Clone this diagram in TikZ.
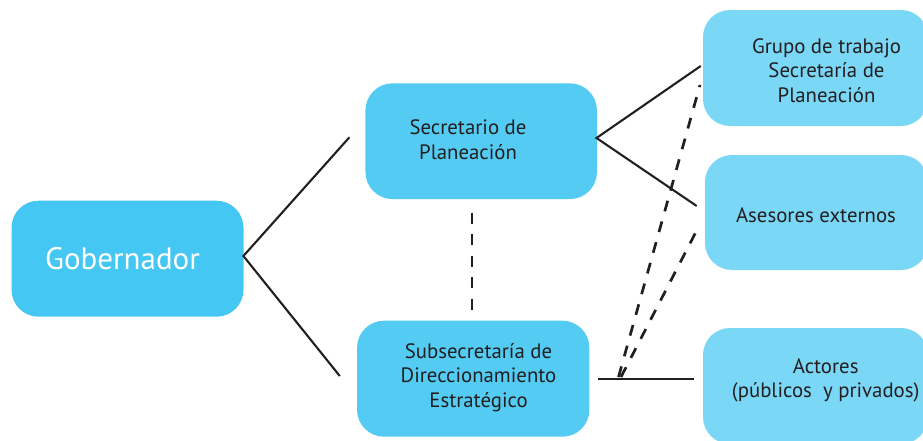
\documentclass[tikz,border=0pt]{standalone}
\usepackage{fontspec}
\setmainfont{PT Sans}
\definecolor{boxdark}{RGB}{69,199,243}
\definecolor{boxmid}{RGB}{83,203,243}
\definecolor{boxlight}{RGB}{122,215,246}
\definecolor{ink}{RGB}{35,31,32}
\begin{document}
\begin{tikzpicture}[x=1pt,y=-1pt,
  orgbox/.style={draw=none,rounded corners=27pt,inner sep=0pt},
  txt/.style={align=center,text=ink,font=\fontsize{20.8}{24.5}\selectfont,inner sep=0pt},
  link/.style={draw=ink,line width=2.1pt},
  dlink/.style={draw=ink,line width=2.7pt,dash pattern=on 11pt off 10.5pt}]
\useasboundingbox (0,0) rectangle (923,440);
\begin{scope}
\clip (0,0) rectangle (923,440);
% boxes
\node[orgbox,fill=boxdark,minimum width=232pt,minimum height=116pt] (gob) at (127.5,258.7) {};
\node[orgbox,fill=boxmid,minimum width=231.5pt,minimum height=115.7pt] (sec) at (481.2,141.2) {};
\node[orgbox,fill=boxmid,minimum width=232.4pt,minimum height=116pt] (sub) at (473.2,378.7) {};
\node[orgbox,fill=boxlight,minimum width=225pt,minimum height=116pt] (grp) at (815.5,68) {};
\node[orgbox,fill=boxlight,minimum width=223pt,minimum height=115pt] (ase) at (816.5,212.5) {};
\node[orgbox,fill=boxlight,minimum width=225pt,minimum height=116pt] (act) at (815.5,386) {};
\end{scope}
% texts
\node[txt,text=white,font=\fontsize{31}{36}\selectfont] (gobt) at (122.5,259) {Gobernador};
\node[txt] (sect) at (468,139.7) {Secretario de\\Planeación};
\node[txt] (subt) at (478.5,377.3) {Subsecretaría de\\Direccionamiento\\Estratégico};
\node[txt] (grpt) at (826.5,70.7) {Grupo de trabajo\\Secretaría de\\Planeación};
\node[txt] (aset) at (816,215.7) {Asesores externos};
\node[txt] (actt) at (825.7,380.3) {Actores\\(públicos\ \ y privados)};
% connector end points
\coordinate (g0) at (243.4,256);
\coordinate (g1) at (349.4,137.3);
\coordinate (g2) at (339.8,376);
\coordinate (s0) at (596.5,138);
\coordinate (s1) at (700.7,66);
\coordinate (s2) at (696.7,206);
\coordinate (h0) at (597.5,378.7);
\coordinate (h1) at (694,378.7);
\coordinate (d0) at (618.5,377);
\coordinate (d1) at (700,85);
\coordinate (e0) at (621,377);
\coordinate (e1) at (699,226);
\coordinate (v0) at (471.9,212.7);
\coordinate (v1) at (471.9,313.3);
% connectors
\draw[link] (g1) -- (g0) -- (g2);
\draw[link] (s1) -- (s0) -- (s2);
\draw[link] (h0) -- (h1);
\draw[dlink] (d0) -- (d1);
\draw[dlink] (e0) -- (e1);
\draw[dlink] (v0) -- (v1);
\end{tikzpicture}
\end{document}
